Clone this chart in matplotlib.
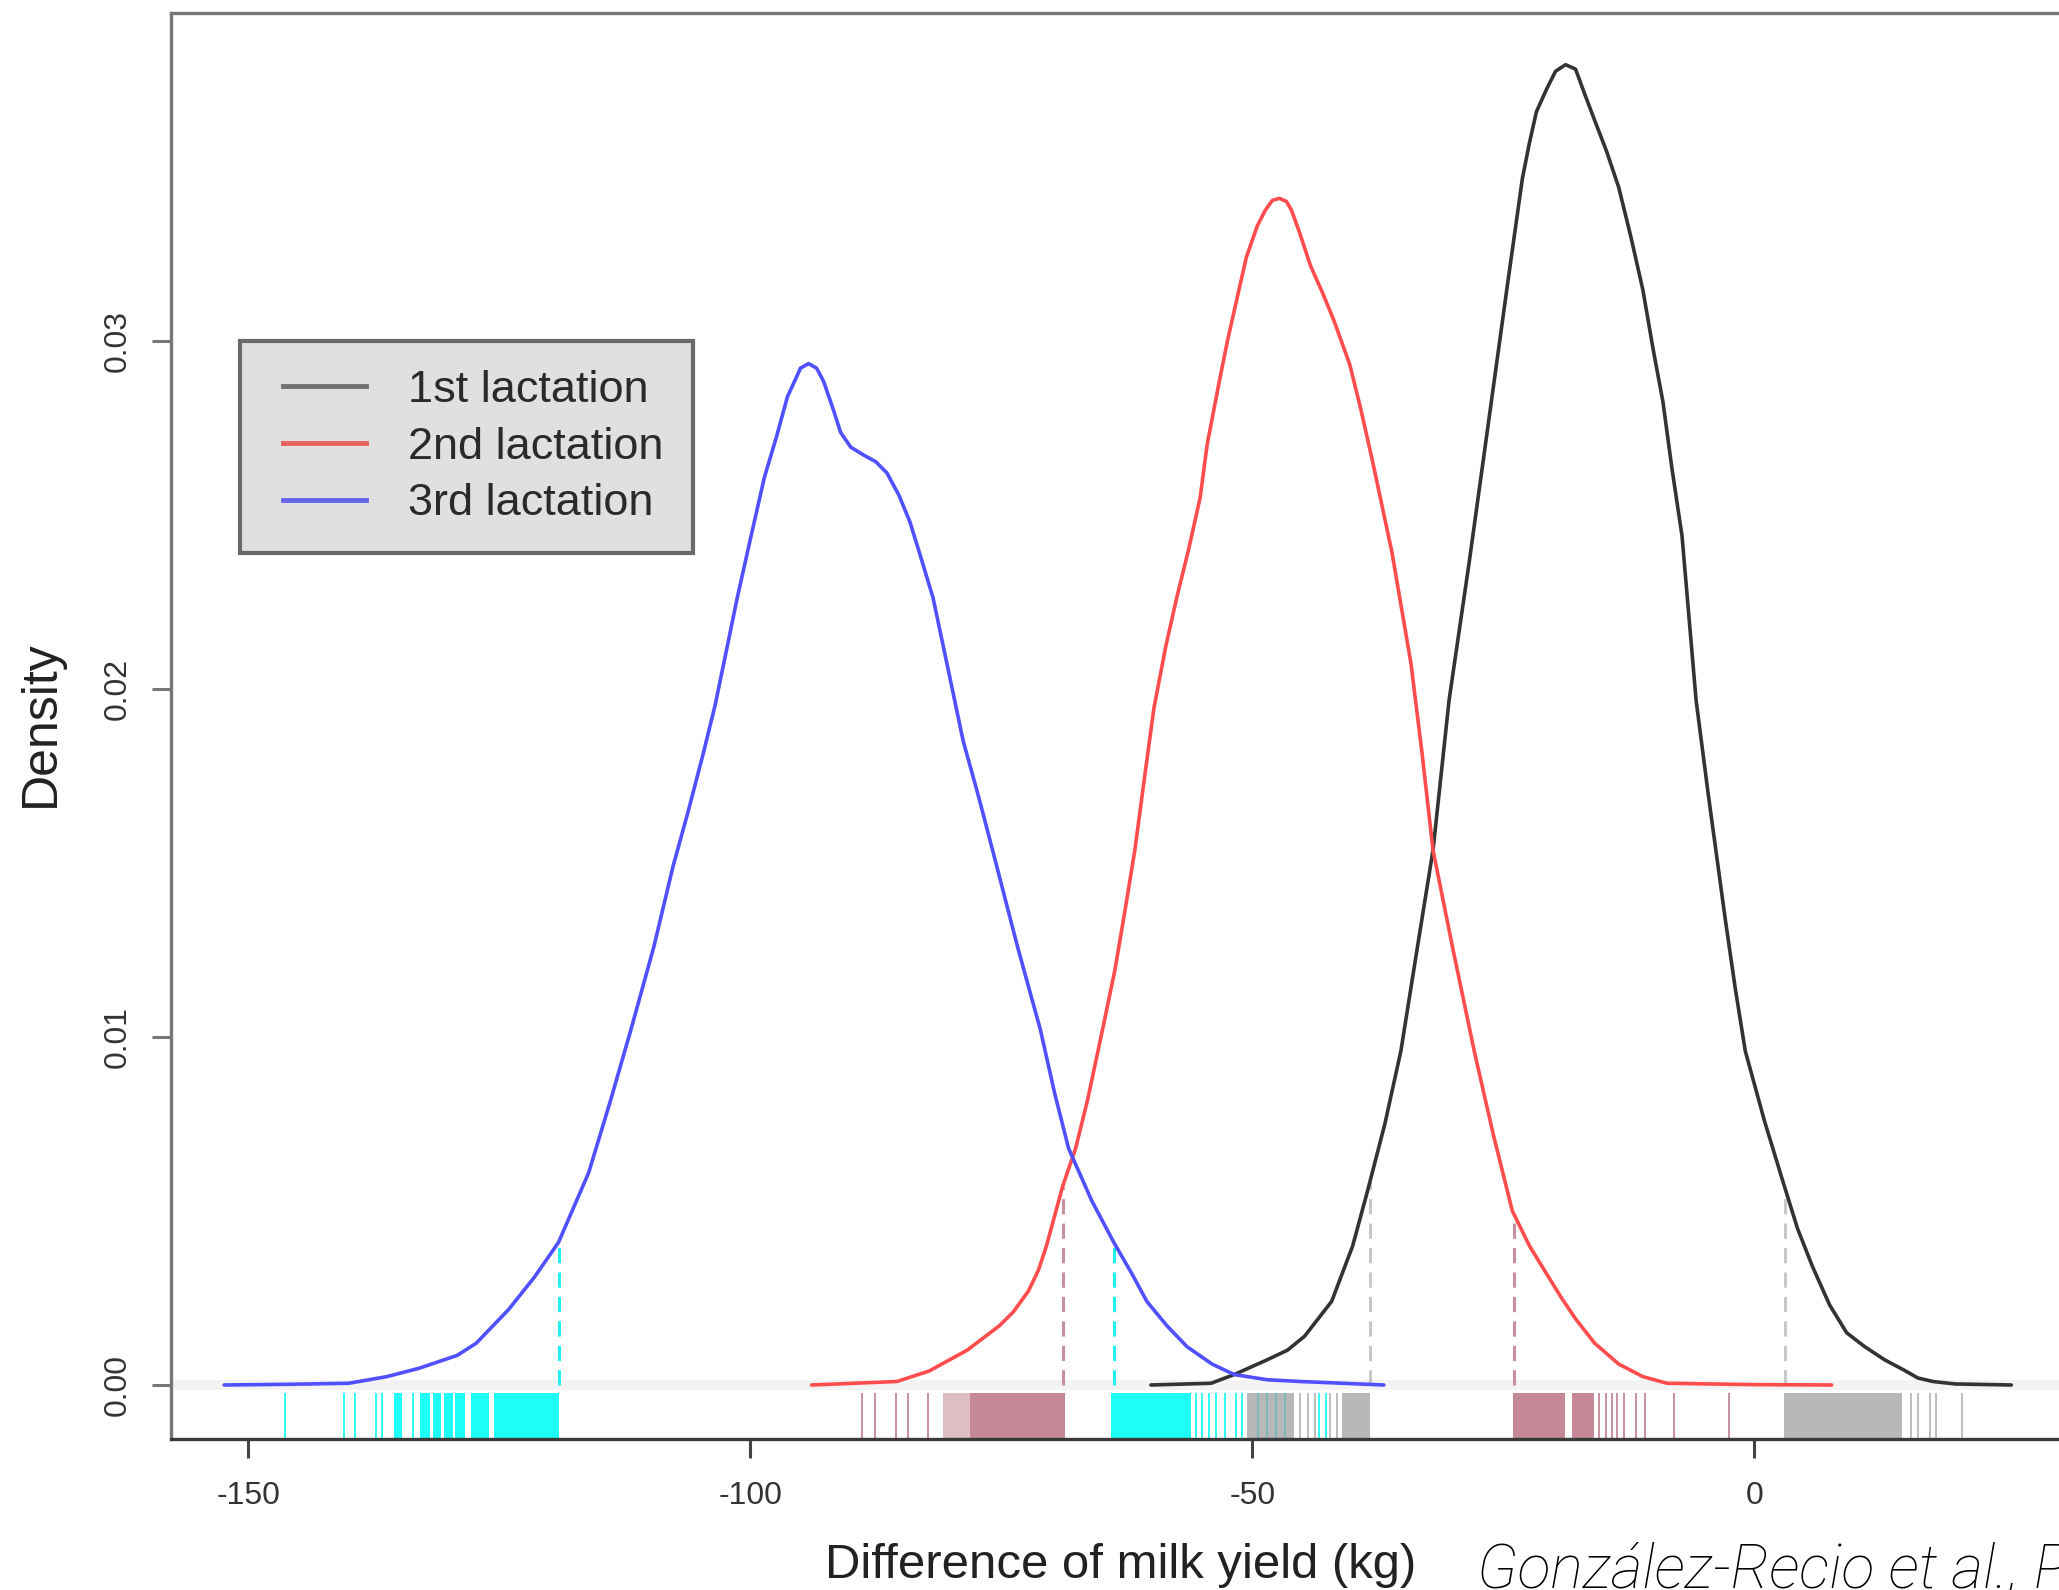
import numpy as np
import matplotlib
matplotlib.use("Agg")
import matplotlib.pyplot as plt
from matplotlib.lines import Line2D
from matplotlib.legend_handler import HandlerLine2D

plt.rcParams['font.family'] = ['Liberation Sans', 'DejaVu Sans']
plt.rcParams['axes.unicode_minus'] = False

# ---------------- data ----------------
labels = ["1st lactation", "2nd lactation", "3rd lactation"]

# 3rd lactation density (blue)
x3 = [-152.4, -146, -140, -136.2, -133, -129.2, -127.3, -124.1, -121.5, -119.1,
      -116.1, -114.0, -111.9, -109.6, -107.7, -106.2, -104.7, -103.5, -102.4, -101.3,
      -100.1, -98.6, -97.4, -96.3, -95.5, -95.0, -94.2, -93.4, -92.7, -91.7,
      -91.0, -90.0, -88.7, -87.5, -86.4, -85.2, -84.1, -83.0, -81.8, -80.3,
      -78.8, -77.2, -75.7, -73.4, -71.1, -69.7, -68.3, -66.0, -63.8, -62.0,
      -60.5, -58.5, -56.5, -54.0, -51.8, -48.5, -45.2, -36.9]
y3 = [0, 0.00002, 0.00005, 0.00024, 0.00048, 0.00085, 0.0012, 0.00216, 0.0031, 0.0041,
      0.0061, 0.0081, 0.0102, 0.0126, 0.0149, 0.01647, 0.01813, 0.01954, 0.02108, 0.02262,
      0.02417, 0.02608, 0.02724, 0.0284, 0.0289, 0.02922, 0.02935, 0.02922, 0.02884, 0.028,
      0.02737, 0.02695, 0.02672, 0.02653, 0.02621, 0.02557, 0.0248, 0.02377, 0.02262, 0.02057,
      0.01851, 0.01684, 0.01518, 0.01261, 0.0102, 0.0084, 0.0068, 0.0053, 0.0041, 0.0032,
      0.0024, 0.0017, 0.0011, 0.0006, 0.0003, 0.00015, 0.0001, 0]

# 2nd lactation density (red)
x2 = [-93.9, -85.4, -82.2, -78.4, -75.2, -73.8, -72.3, -71.3, -70.5, -68.9,
      -67.6, -66.4, -65.0, -63.7, -62.7, -61.7, -60.7, -59.8, -58.6, -57.5,
      -56.4, -55.2, -54.5, -53.3, -52.5, -51.4, -50.6, -49.5, -48.7, -48.0,
      -47.3, -46.6, -46.1, -45.3, -44.2, -43.0, -41.9, -40.3, -39.2, -38.0,
      -36.1, -34.2, -33.1, -32.0, -30.0, -27.9, -26.0, -24.1, -22.4, -20.7,
      -19.2, -17.8, -15.9, -13.5, -11.1, -8.7, 0.0, 7.7]
y2 = [0, 0.0001, 0.0004, 0.001, 0.0017, 0.0021, 0.0027, 0.0033, 0.0040, 0.0057,
      0.0068, 0.0082, 0.0101, 0.0119, 0.0136, 0.01537, 0.01753, 0.01945, 0.02125, 0.02266,
      0.02394, 0.02549, 0.02702, 0.02882, 0.02997, 0.03138, 0.0324, 0.03331, 0.03376, 0.03404,
      0.0341, 0.03401, 0.03376, 0.03312, 0.03216, 0.03138, 0.03061, 0.02933, 0.02805, 0.02651,
      0.02394, 0.02074, 0.01817, 0.01537, 0.0125, 0.0096, 0.0072, 0.0050, 0.0040, 0.0032,
      0.0025, 0.0019, 0.0012, 0.0006, 0.00024, 0.00005, 0.00001, 0]

# 1st lactation density (black)
x1 = [-60.1, -54.1, -51.8, -48.7, -46.5, -44.8, -42.1, -40.0, -38.5, -36.8,
      -35.2, -33.6, -32.0, -30.4, -28.4, -26.5, -24.6, -23.1, -22.4, -21.7,
      -20.7, -19.8, -18.8, -17.8, -16.9, -15.9, -14.7, -13.5, -12.3, -11.1,
      -10.1, -9.1, -8.2, -7.2, -5.8, -4.6, -2.9, -1.9, -0.9, 1.0,
      2.9, 4.3, 5.8, 7.5, 9.2, 11.0, 13.0, 14.9, 16.3, 17.8,
      20.0, 25.6]
y1 = [0, 0.00005, 0.0003, 0.0007, 0.0010, 0.0014, 0.0024, 0.0040, 0.0056, 0.0075,
      0.0096, 0.0125, 0.01537, 0.01968, 0.02364, 0.02761, 0.03159, 0.03467, 0.03569, 0.03659,
      0.03723, 0.03775, 0.03794, 0.03781, 0.0371, 0.03634, 0.03544, 0.03441, 0.033, 0.03147,
      0.0298, 0.02825, 0.02633, 0.0244, 0.01968, 0.0170, 0.0134, 0.0114, 0.0096, 0.0076,
      0.0058, 0.0045, 0.0034, 0.0023, 0.0015, 0.0011, 0.00072, 0.00043, 0.0002, 0.0001,
      0.00003, 0]

# interval limits (dashed lines)
lim3 = [-119.1, -63.8]
lim2 = [-68.9, -23.9]
lim1 = [-38.3, 3.1]

# rug: single ticks and dense blocks (start, end)
rug3_ticks = [-146.3, -140.5, -139.4, -137.3, -136.7, -133.6, -55.6, -55.0, -54.3,
              -53.6, -52.7, -51.6, -51.0, -49.4, -48.5, -47.6, -46.7, -43.4, -42.7]
rug3_blocks = [(-135.5, -134.7), (-132.9, -131.9), (-131.6, -130.8), (-130.5, -129.6),
               (-129.4, -128.4), (-127.8, -126.0), (-125.5, -119.1), (-64.1, -56.1)]
rug2_ticks = [-88.9, -87.6, -85.5, -84.3, -82.3,
              -15.5, -14.8, -14.2, -13.7, -13.0, -11.8, -10.9, -8.0, -2.5]
rug2_blocks = [(-78.1, -68.7), (-24.0, -18.9), (-18.2, -16.0)]
rug2_light_blocks = [(-80.8, -78.1)]
rug1_ticks = [-45.2, -44.5, -43.8, -42.3, -41.6, 15.6, 16.3, 17.5, 18.1, 20.7]
rug1_blocks = [(-50.5, -45.8), (-41.1, -38.3), (3.0, 14.7)]

xticks = [-150, -100, -50, 0]
yticks = [0.00, 0.01, 0.02, 0.03]

# ---------------- figure ----------------
W, H = 2059, 1590
fig = plt.figure(figsize=(W / 100, H / 100), dpi=100)
xmin, xmax = -157.7, 40.0
ymin, ymax = -0.001552, 0.039425
ax = fig.add_axes([171 / W, 151 / H, (xmax - xmin) * 10.04 / W, 1426 / H])
ax.set_xlim(xmin, xmax)
ax.set_ylim(ymin, ymax)

col1, col2, col3 = '#333333', '#FF4C4C', '#5050FF'
rug_c1, rug_c2, rug_c3 = '#9B9B9B', '#C48896', '#1EFFF8'
dash_c1, dash_c2, dash_c3 = '#C8C8C8', '#C8909C', '#22F0F0'

# zero line
ax.axhline(0, color='#F3F3F3', lw=7, zorder=0.5)

# rugs
xt = ax.get_xaxis_transform()
rug_h = 0.032
for ticks, blocks, c, a in [(rug3_ticks, rug3_blocks, rug_c3, 1.0),
                            (rug2_ticks, rug2_blocks, rug_c2, 1.0),
                            (rug1_ticks, rug1_blocks, rug_c1, 0.7)]:
    ax.vlines(ticks, 0, rug_h, transform=xt, colors=c, lw=1.3, alpha=a, zorder=1)
    for s, e in blocks:
        ax.axvspan(s, e, ymin=0, ymax=rug_h, color=c, alpha=a, lw=0, zorder=1)
for s, e in rug2_light_blocks:
    ax.axvspan(s, e, ymin=0, ymax=rug_h, color=rug_c2, alpha=0.55, lw=0, zorder=1)

# dashed interval lines
for xs, ys, lims, c in [(x3, y3, lim3, dash_c3), (x2, y2, lim2, dash_c2),
                        (x1, y1, lim1, dash_c1)]:
    tops = np.interp(lims, xs, ys)
    ax.vlines(lims, 0, tops, colors=c, lw=2.2, linestyles=(0, (5, 3)), zorder=1.5)

# density curves
for xs, ys, c in [(x1, y1, col1), (x2, y2, col2), (x3, y3, col3)]:
    ax.plot(xs, ys, color=c, lw=2.6, zorder=3, solid_joinstyle='round',
            solid_capstyle='round')

# axes styling
for side in ['left', 'top', 'right']:
    ax.spines[side].set_color('#777777')
    ax.spines[side].set_linewidth(2.4)
ax.spines['bottom'].set_color('#3a3a3a')
ax.spines['bottom'].set_linewidth(2.4)

ax.set_xticks(xticks)
ax.set_xticklabels([str(v) for v in xticks])
ax.set_yticks(yticks)
ax.set_yticklabels([f"{v:.2f}" for v in yticks], rotation=90, va='center')
ax.tick_params(axis='x', length=13.5, width=2.2, color='#444444', labelsize=23,
               labelcolor='#333333', pad=17)
ax.tick_params(axis='y', length=13.5, width=2.2, color='#777777', labelsize=23,
               labelcolor='#333333', pad=14)

# axis labels
fig.text(1121 / W, 1 - 1578 / H, "Difference of milk yield (kg)", fontsize=35.4,
         ha='center', va='baseline', color='#222222')
fig.text(41 / W, 1 - 724 / H, "Density", fontsize=36, rotation=90,
         ha='center', va='center', color='#222222')

# citation (clipped at right edge as in the reference)
fig.text(1477 / W, 1 - 1588 / H, "González-Recio et al., PLoS ONE", fontsize=44,
         style='italic', family=['Roboto', 'Liberation Sans', 'DejaVu Sans'],
         weight='light', ha='left', va='baseline', color='#000000')

# legend
handles = [Line2D([], [], color='#707070', lw=3.5),
           Line2D([], [], color='#EE6060', lw=3.5),
           Line2D([], [], color='#6464F0', lw=3.5)]
leg = ax.legend(handles, labels, loc='upper left',
                bbox_to_anchor=(240 / W, 1 - 341 / H), bbox_transform=fig.transFigure,
                fontsize=32.5, frameon=True, fancybox=False, framealpha=1,
                facecolor='#E0E0E0', edgecolor='#6a6a6a', borderpad=0.64,
                handlelength=2.16, handletextpad=0.93, labelspacing=0.35,
                borderaxespad=0, handler_map={Line2D: HandlerLine2D(xpad=0.32)})
leg.get_frame().set_linewidth(3)
for t in leg.get_texts():
    t.set_color('#2a2a2a')

fig.savefig("out.png", dpi=100)
